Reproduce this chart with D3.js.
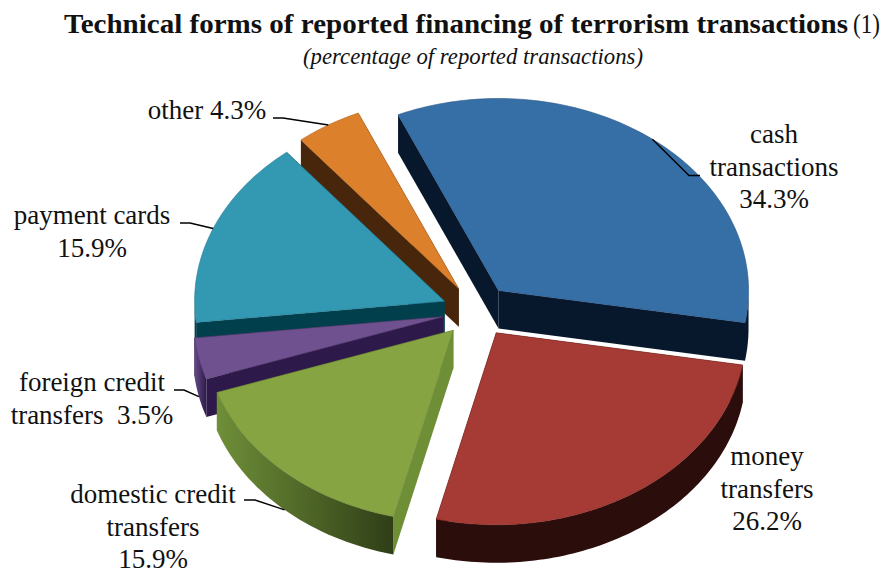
<!DOCTYPE html>
<html>
<head>
<meta charset="utf-8">
<script src="https://cdn.jsdelivr.net/npm/d3@7/dist/d3.min.js"></script>
<style>
  html, body { margin: 0; padding: 0; background: #fff; }
  svg { display: block; }
  text { font-family: "Liberation Serif", serif; fill: #111; }
</style>
</head>
<body>
<svg id="chart" width="885" height="575"></svg>
<script>
// Shares of reported transactions, clockwise from the blue slice
const categories = ["cash transactions", "money transfers", "domestic credit transfers",
                    "foreign credit transfers", "payment cards", "other"];
const shares = [34.3, 26.2, 15.9, 3.5, 15.9, 4.3];
const topColors = ["#366ea6", "#a63a34", "#86a542", "#6f5190", "#3398b2", "#dd802c"];
const wallColors = ["#08182c", "#2b0d0b", "#6f8f36", "#2e1a4a", "#023f4c", "#47260b"];
const rimColors = [["#08182c", "#08182c"], ["#2b0d0b", "#2b0d0b"], ["#6f8f38", "#2f3e17"],
                   ["#654a88", "#2e1a4a"], ["#023f4c", "#023f4c"], ["#47260b", "#47260b"]];
const labelLines = [
  ["cash", "transactions", "34.3%"],
  ["money", "transfers", "26.2%"],
  ["domestic credit", "transfers", "15.9%"],
  ["foreign credit", "transfers  3.5%"],
  ["payment cards", "15.9%"],
  ["other 4.3%"]
];
const labelAnchors = [
  { x: 774, y: 143 }, { x: 767, y: 465 }, { x: 153, y: 503 },
  { x: 92, y: 391 }, { x: 92, y: 224 }, { x: 207, y: 119 }
];
const leaderElbows = [
  [[689, 175.5], [700, 175.5]], null, [[255, 500], [244, 500]],
  [[184, 390], [174, 390]], [[190, 223], [180, 223]], [[283, 118], [273, 118]]
];

const cx = 477, cy = 311, rx = 250, ry = 192, depth = 38;
const explodeX = 35, explodeY = 26;
const startAngle = -23.7 * Math.PI / 180;

const svg = d3.select("#chart");
const defs = svg.append("defs");

svg.append("text").attr("x", 64).attr("y", 33)
  .attr("font-size", 27).attr("font-weight", "bold").attr("textLength", 784)
  .attr("lengthAdjust", "spacingAndGlyphs")
  .text("Technical forms of reported financing of terrorism transactions");
svg.append("text").attr("x", 853).attr("y", 33).attr("font-size", 27)
  .attr("textLength", 27).attr("lengthAdjust", "spacingAndGlyphs").text("(1)");
svg.append("text").attr("x", 303).attr("y", 64)
  .attr("font-size", 24).attr("font-style", "italic").attr("textLength", 340)
  .attr("lengthAdjust", "spacingAndGlyphs")
  .text("(percentage of reported transactions)");

const slices = d3.pie().sort(null).value(d => d)
  .startAngle(startAngle).endAngle(startAngle + 2 * Math.PI)(shares);

// Each slice is pushed out along its middle angle and flattened into an ellipse
const model = slices.map((s, i) => {
  const mid = (s.startAngle + s.endAngle) / 2;
  const ax = cx + explodeX * Math.sin(mid);
  const ay = cy - explodeY * Math.cos(mid);
  const rim = a => [ax + rx * Math.sin(a), ay - ry * Math.cos(a)];
  return { i, s, mid, ax, ay, rim };
});

const line = d3.line();
const shift = pts => pts.map(([x, y]) => [x, y + depth]);
const sweep = (a0, a1) => {
  const n = Math.max(2, Math.ceil(Math.abs(a1 - a0) / 0.02));
  return d3.range(n + 1).map(k => a0 + (a1 - a0) * k / n);
};

// Back-to-front paint order
const order = [5, 0, 4, 3, 2, 1];
const scene = svg.append("g");

order.forEach(i => {
  const m = model[i];
  const { s, ax, ay, rim } = m;
  const g = scene.append("g").attr("class", "slice").attr("data-name", categories[i]);
  const a0 = s.startAngle, a1 = s.endAngle;

  // Flat cut faces running from the apex out to the rim
  [a0, a1].forEach(a => {
    const edge = [[ax, ay], rim(a)];
    g.append("path")
      .attr("d", line(edge.concat(shift(edge).reverse())) + "Z")
      .attr("fill", wallColors[i]);
  });

  // Curved outer wall, only where the rim faces the viewer
  const lo = Math.max(a0, Math.PI / 2), hi = Math.min(a1, 1.5 * Math.PI);
  if (hi > lo) {
    const arcPts = sweep(lo, hi).map(rim);
    const id = "rim-" + i;
    const grad = defs.append("linearGradient").attr("id", id)
      .attr("gradientUnits", "userSpaceOnUse")
      .attr("x1", d3.min(arcPts, p => p[0])).attr("x2", d3.max(arcPts, p => p[0]))
      .attr("y1", 0).attr("y2", 0);
    grad.append("stop").attr("offset", 0).attr("stop-color", rimColors[i][0]);
    grad.append("stop").attr("offset", 1).attr("stop-color", rimColors[i][1]);
    g.append("path")
      .attr("d", line(arcPts.concat(shift(arcPts).reverse())) + "Z")
      .attr("fill", `url(#${id})`);
  }

  // Top surface
  const topPts = [[ax, ay]].concat(sweep(a0, a1).map(rim));
  g.append("path")
    .attr("d", line(topPts) + "Z")
    .attr("fill", topColors[i])
    .attr("stroke", d3.color(topColors[i]).darker(0.6))
    .attr("stroke-width", 0.6)
    .attr("stroke-linejoin", "round");
});

// Leader lines start on the rim at each slice's middle angle
model.forEach(m => {
  const elbow = leaderElbows[m.i];
  if (!elbow) return;
  const front = Math.cos(m.mid) < 0 && m.i !== 0;
  const p = m.rim(m.mid);
  const start = front ? [p[0], p[1] + depth] : p;
  svg.append("path").attr("fill", "none").attr("stroke", "#000").attr("stroke-width", 1.4)
    .attr("d", line([start, ...elbow]));
});

// Multi-line slice labels
labelLines.forEach((lines, i) => {
  const t = svg.append("text").attr("text-anchor", "middle").attr("font-size", 27)
    .style("white-space", "pre");
  lines.forEach((txt, k) => {
    t.append("tspan").attr("x", labelAnchors[i].x)
      .attr("y", labelAnchors[i].y + k * 32.5).text(txt);
  });
});
</script>
</body>
</html>
